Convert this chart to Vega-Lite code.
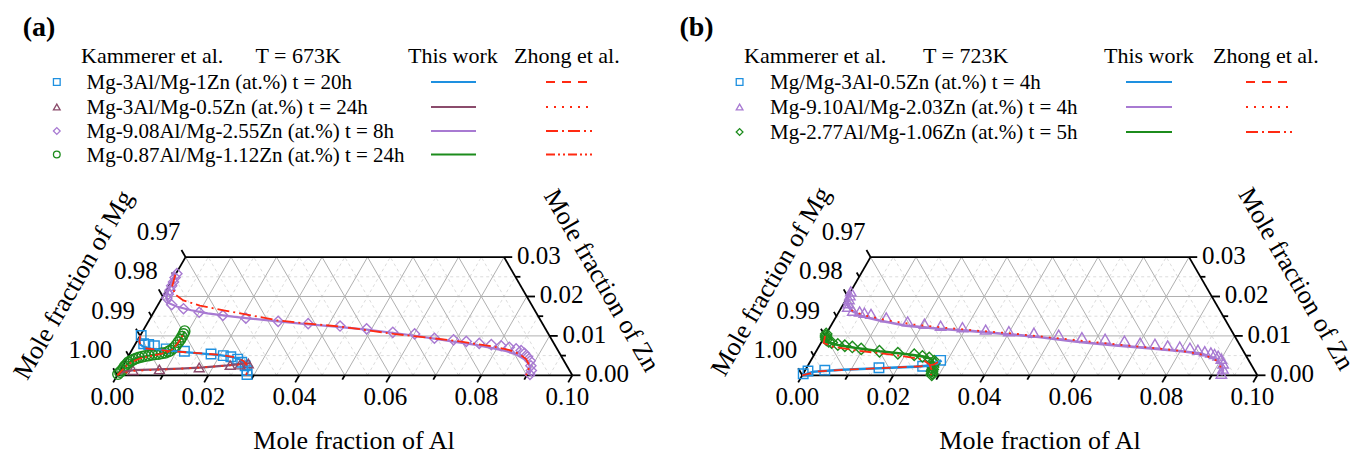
{
"$schema": "https://vega.github.io/schema/vega-lite/v6.json",
"padding": 0,
"spacing": 0,
"bounds": "flush",
"background": "white",
"config": {"view": {"stroke": null}, "font": "Liberation Serif", "text": {"font": "Liberation Serif", "color": "black"}},
"resolve": {"scale": {"x": "independent", "y": "independent", "color": "independent", "shape": "independent", "strokeDash": "independent", "size": "independent"}},
"datasets": {
"grid": [
{"al":0,"zn":0.005,"al2":0.095,"zn2":0.005,"k":"minor"},
{"al":0,"zn":0.01,"al2":0.09,"zn2":0.01,"k":"major"},
{"al":0,"zn":0.015,"al2":0.085,"zn2":0.015,"k":"minor"},
{"al":0,"zn":0.02,"al2":0.08,"zn2":0.02,"k":"major"},
{"al":0,"zn":0.025,"al2":0.075,"zn2":0.025,"k":"minor"},
{"al":0.005,"zn":0,"al2":0.005,"zn2":0.03,"k":"minor"},
{"al":0.01,"zn":0,"al2":0.01,"zn2":0.03,"k":"major"},
{"al":0.015,"zn":0,"al2":0.015,"zn2":0.03,"k":"minor"},
{"al":0.02,"zn":0,"al2":0.02,"zn2":0.03,"k":"major"},
{"al":0.025,"zn":0,"al2":0.025,"zn2":0.03,"k":"minor"},
{"al":0.03,"zn":0,"al2":0.03,"zn2":0.03,"k":"major"},
{"al":0.035,"zn":0,"al2":0.035,"zn2":0.03,"k":"minor"},
{"al":0.04,"zn":0,"al2":0.04,"zn2":0.03,"k":"major"},
{"al":0.045,"zn":0,"al2":0.045,"zn2":0.03,"k":"minor"},
{"al":0.05,"zn":0,"al2":0.05,"zn2":0.03,"k":"major"},
{"al":0.055,"zn":0,"al2":0.055,"zn2":0.03,"k":"minor"},
{"al":0.06,"zn":0,"al2":0.06,"zn2":0.03,"k":"major"},
{"al":0.065,"zn":0,"al2":0.065,"zn2":0.03,"k":"minor"},
{"al":0.07,"zn":0,"al2":0.07,"zn2":0.03,"k":"major"},
{"al":0.075,"zn":0,"al2":0.075,"zn2":0.025,"k":"minor"},
{"al":0.08,"zn":0,"al2":0.08,"zn2":0.02,"k":"major"},
{"al":0.085,"zn":0,"al2":0.085,"zn2":0.015,"k":"minor"},
{"al":0.09,"zn":0,"al2":0.09,"zn2":0.01,"k":"major"},
{"al":0.095,"zn":0,"al2":0.095,"zn2":0.005,"k":"minor"},
{"al":0.005,"zn":0,"al2":0,"zn2":0.005,"k":"minor"},
{"al":0.01,"zn":0,"al2":0,"zn2":0.01,"k":"major"},
{"al":0.015,"zn":0,"al2":0,"zn2":0.015,"k":"minor"},
{"al":0.02,"zn":0,"al2":0,"zn2":0.02,"k":"major"},
{"al":0.025,"zn":0,"al2":0,"zn2":0.025,"k":"minor"},
{"al":0.03,"zn":0,"al2":0,"zn2":0.03,"k":"major"},
{"al":0.035,"zn":0,"al2":0.005,"zn2":0.03,"k":"minor"},
{"al":0.04,"zn":0,"al2":0.01,"zn2":0.03,"k":"major"},
{"al":0.045,"zn":0,"al2":0.015,"zn2":0.03,"k":"minor"},
{"al":0.05,"zn":0,"al2":0.02,"zn2":0.03,"k":"major"},
{"al":0.055,"zn":0,"al2":0.025,"zn2":0.03,"k":"minor"},
{"al":0.06,"zn":0,"al2":0.03,"zn2":0.03,"k":"major"},
{"al":0.065,"zn":0,"al2":0.035,"zn2":0.03,"k":"minor"},
{"al":0.07,"zn":0,"al2":0.04,"zn2":0.03,"k":"major"},
{"al":0.075,"zn":0,"al2":0.045,"zn2":0.03,"k":"minor"},
{"al":0.08,"zn":0,"al2":0.05,"zn2":0.03,"k":"major"},
{"al":0.085,"zn":0,"al2":0.055,"zn2":0.03,"k":"minor"},
{"al":0.09,"zn":0,"al2":0.06,"zn2":0.03,"k":"major"},
{"al":0.095,"zn":0,"al2":0.065,"zn2":0.03,"k":"minor"}
],
"frame": [
{"al":0,"zn":0,"al2":0.1,"zn2":0},
{"al":0,"zn":0,"al2":0,"zn2":0.03},
{"al":0,"zn":0.03,"al2":0.07,"zn2":0.03},
{"al":0.1,"zn":0,"al2":0.07,"zn2":0.03},
{"al":0,"zn":0,"al2":0,"zn2":-0.0018},
{"al":0.01,"zn":0,"al2":0.01,"zn2":-0.0011},
{"al":0.02,"zn":0,"al2":0.02,"zn2":-0.0018},
{"al":0.03,"zn":0,"al2":0.03,"zn2":-0.0011},
{"al":0.04,"zn":0,"al2":0.04,"zn2":-0.0018},
{"al":0.05,"zn":0,"al2":0.05,"zn2":-0.0011},
{"al":0.06,"zn":0,"al2":0.06,"zn2":-0.0018},
{"al":0.07,"zn":0,"al2":0.07,"zn2":-0.0011},
{"al":0.08,"zn":0,"al2":0.08,"zn2":-0.0018},
{"al":0.09,"zn":0,"al2":0.09,"zn2":-0.0011},
{"al":0.1,"zn":0,"al2":0.1,"zn2":-0.0018},
{"al":0,"zn":0,"al2":-0.0018,"zn2":0.0018},
{"al":0,"zn":0.005,"al2":-0.0011,"zn2":0.0061},
{"al":0,"zn":0.01,"al2":-0.0018,"zn2":0.0118},
{"al":0,"zn":0.015,"al2":-0.0011,"zn2":0.0161},
{"al":0,"zn":0.02,"al2":-0.0018,"zn2":0.0218},
{"al":0,"zn":0.025,"al2":-0.0011,"zn2":0.0261},
{"al":0,"zn":0.03,"al2":-0.0018,"zn2":0.0318},
{"al":0.1,"zn":0,"al2":0.1018,"zn2":0},
{"al":0.095,"zn":0.005,"al2":0.0961,"zn2":0.005},
{"al":0.09,"zn":0.01,"al2":0.0918,"zn2":0.01},
{"al":0.085,"zn":0.015,"al2":0.0861,"zn2":0.015},
{"al":0.08,"zn":0.02,"al2":0.0818,"zn2":0.02},
{"al":0.075,"zn":0.025,"al2":0.0761,"zn2":0.025},
{"al":0.07,"zn":0.03,"al2":0.0718,"zn2":0.03}
],
"labAl": [{"al":0,"zn":0,"t":"0.00"},{"al":0.02,"zn":0,"t":"0.02"},{"al":0.04,"zn":0,"t":"0.04"},{"al":0.06,"zn":0,"t":"0.06"},{"al":0.08,"zn":0,"t":"0.08"},{"al":0.1,"zn":0,"t":"0.10"}],
"labMg": [{"al":0,"zn":0,"t":"1.00"},{"al":0,"zn":0.01,"t":"0.99"},{"al":0,"zn":0.02,"t":"0.98"},{"al":0,"zn":0.03,"t":"0.97"}],
"labZn": [{"al":0.1,"zn":0,"t":"0.00"},{"al":0.09,"zn":0.01,"t":"0.01"},{"al":0.08,"zn":0.02,"t":"0.02"},{"al":0.07,"zn":0.03,"t":"0.03"}],
"expA": [
{"s":"s1","al":0.0002,"zn":0.0101},{"s":"s1","al":0.0018,"zn":0.0080},{"s":"s1","al":0.0030,"zn":0.0078},{"s":"s1","al":0.0044,"zn":0.0075},{"s":"s1","al":0.0074,"zn":0.0067},{"s":"s1","al":0.0117,"zn":0.0061},{"s":"s1","al":0.0179,"zn":0.0054},{"s":"s1","al":0.0208,"zn":0.0050},{"s":"s1","al":0.0226,"zn":0.0047},{"s":"s1","al":0.0244,"zn":0.0041},{"s":"s1","al":0.0257,"zn":0.0033},{"s":"s1","al":0.0269,"zn":0.0024},{"s":"s1","al":0.0279,"zn":0.0012},{"s":"s1","al":0.0284,"zn":0.0002},
{"s":"s2","al":0.0028,"zn":0.0013},{"s":"s2","al":0.0085,"zn":0.0015},{"s":"s2","al":0.0170,"zn":0.0020},{"s":"s2","al":0.0235,"zn":0.0026},{"s":"s2","al":0.0256,"zn":0.0027},{"s":"s2","al":0.0273,"zn":0.0030},
{"s":"s3","al":0.0002,"zn":0.0258},{"s":"s3","al":0.0003,"zn":0.0248},{"s":"s3","al":0.0005,"zn":0.0237},{"s":"s3","al":0.0006,"zn":0.0227},{"s":"s3","al":0.0008,"zn":0.0216},{"s":"s3","al":0.0009,"zn":0.0206},{"s":"s3","al":0.0011,"zn":0.0196},{"s":"s3","al":0.0030,"zn":0.0179},{"s":"s3","al":0.0061,"zn":0.0169},{"s":"s3","al":0.0100,"zn":0.0160},{"s":"s3","al":0.0156,"zn":0.0152},{"s":"s3","al":0.0210,"zn":0.0145},{"s":"s3","al":0.0285,"zn":0.0137},{"s":"s3","al":0.0354,"zn":0.0131},{"s":"s3","al":0.0427,"zn":0.0125},{"s":"s3","al":0.0489,"zn":0.0118},{"s":"s3","al":0.0551,"zn":0.0109},{"s":"s3","al":0.0601,"zn":0.0105},{"s":"s3","al":0.0650,"zn":0.0094},{"s":"s3","al":0.0694,"zn":0.0090},{"s":"s3","al":0.0724,"zn":0.0086},{"s":"s3","al":0.0755,"zn":0.0081},{"s":"s3","al":0.0783,"zn":0.0078},{"s":"s3","al":0.0806,"zn":0.0075},{"s":"s3","al":0.0826,"zn":0.0071},{"s":"s3","al":0.0843,"zn":0.0067},{"s":"s3","al":0.0856,"zn":0.0063},{"s":"s3","al":0.0867,"zn":0.0056},{"s":"s3","al":0.0878,"zn":0.0047},{"s":"s3","al":0.0889,"zn":0.0037},{"s":"s3","al":0.0897,"zn":0.0024},{"s":"s3","al":0.0904,"zn":0.0012},{"s":"s3","al":0.0906,"zn":0.0002},
{"s":"s4","al":0.0000,"zn":0.0003},{"s":"s4","al":0.0002,"zn":0.0008},{"s":"s4","al":0.0004,"zn":0.0013},{"s":"s4","al":0.0005,"zn":0.0019},{"s":"s4","al":0.0005,"zn":0.0024},{"s":"s4","al":0.0007,"zn":0.0029},{"s":"s4","al":0.0008,"zn":0.0033},{"s":"s4","al":0.0012,"zn":0.0037},{"s":"s4","al":0.0016,"zn":0.0040},{"s":"s4","al":0.0020,"zn":0.0043},{"s":"s4","al":0.0025,"zn":0.0045},{"s":"s4","al":0.0031,"zn":0.0047},{"s":"s4","al":0.0037,"zn":0.0049},{"s":"s4","al":0.0044,"zn":0.0050},{"s":"s4","al":0.0050,"zn":0.0052},{"s":"s4","al":0.0057,"zn":0.0053},{"s":"s4","al":0.0064,"zn":0.0054},{"s":"s4","al":0.0070,"zn":0.0056},{"s":"s4","al":0.0077,"zn":0.0057},{"s":"s4","al":0.0082,"zn":0.0060},{"s":"s4","al":0.0085,"zn":0.0063},{"s":"s4","al":0.0089,"zn":0.0069},{"s":"s4","al":0.0091,"zn":0.0076},{"s":"s4","al":0.0092,"zn":0.0084},{"s":"s4","al":0.0093,"zn":0.0091},{"s":"s4","al":0.0093,"zn":0.0098},{"s":"s4","al":0.0093,"zn":0.0105},{"s":"s4","al":0.0092,"zn":0.0112}
],
"calcA": [
{"s":"s1","src":"T","al":0,"zn":0.0101},{"s":"s1","src":"T","al":0.0004,"zn":0.0090},{"s":"s1","src":"T","al":0.0010,"zn":0.0079},{"s":"s1","src":"T","al":0.0020,"zn":0.0073},{"s":"s1","src":"T","al":0.0040,"zn":0.0068},{"s":"s1","src":"T","al":0.0080,"zn":0.0063},{"s":"s1","src":"T","al":0.0120,"zn":0.0059},{"s":"s1","src":"T","al":0.0160,"zn":0.0055},{"s":"s1","src":"T","al":0.0200,"zn":0.0051},{"s":"s1","src":"T","al":0.0230,"zn":0.0046},{"s":"s1","src":"T","al":0.0250,"zn":0.0040},{"s":"s1","src":"T","al":0.0265,"zn":0.0031},{"s":"s1","src":"T","al":0.0276,"zn":0.0020},{"s":"s1","src":"T","al":0.0282,"zn":0.0010},{"s":"s1","src":"T","al":0.0285,"zn":0},
{"s":"s1","src":"Z","al":0,"zn":0.0101},{"s":"s1","src":"Z","al":0.0006,"zn":0.0085},{"s":"s1","src":"Z","al":0.0015,"zn":0.0074},{"s":"s1","src":"Z","al":0.0030,"zn":0.0068},{"s":"s1","src":"Z","al":0.0080,"zn":0.0062},{"s":"s1","src":"Z","al":0.0140,"zn":0.0057},{"s":"s1","src":"Z","al":0.0200,"zn":0.0052},{"s":"s1","src":"Z","al":0.0240,"zn":0.0045},{"s":"s1","src":"Z","al":0.0260,"zn":0.0036},{"s":"s1","src":"Z","al":0.0272,"zn":0.0025},{"s":"s1","src":"Z","al":0.0280,"zn":0.0012},{"s":"s1","src":"Z","al":0.0283,"zn":0},
{"s":"s2","src":"T","al":0,"zn":0.0003},{"s":"s2","src":"T","al":0.0010,"zn":0.0009},{"s":"s2","src":"T","al":0.0030,"zn":0.0013},{"s":"s2","src":"T","al":0.0080,"zn":0.0015},{"s":"s2","src":"T","al":0.0130,"zn":0.0017},{"s":"s2","src":"T","al":0.0180,"zn":0.0020},{"s":"s2","src":"T","al":0.0230,"zn":0.0025},{"s":"s2","src":"T","al":0.0260,"zn":0.0029},{"s":"s2","src":"T","al":0.0278,"zn":0.0031},
{"s":"s2","src":"Z","al":0,"zn":0.0002},{"s":"s2","src":"Z","al":0.0030,"zn":0.0011},{"s":"s2","src":"Z","al":0.0080,"zn":0.0014},{"s":"s2","src":"Z","al":0.0150,"zn":0.0018},{"s":"s2","src":"Z","al":0.0220,"zn":0.0024},{"s":"s2","src":"Z","al":0.0260,"zn":0.0028},{"s":"s2","src":"Z","al":0.0280,"zn":0.0031},
{"s":"s3","src":"T","al":0,"zn":0.0258},{"s":"s3","src":"T","al":0.0002,"zn":0.0235},{"s":"s3","src":"T","al":0.0005,"zn":0.0212},{"s":"s3","src":"T","al":0.0010,"zn":0.0195},{"s":"s3","src":"T","al":0.0022,"zn":0.0183},{"s":"s3","src":"T","al":0.0045,"zn":0.0174},{"s":"s3","src":"T","al":0.0080,"zn":0.0165},{"s":"s3","src":"T","al":0.0120,"zn":0.0157},{"s":"s3","src":"T","al":0.0170,"zn":0.0150},{"s":"s3","src":"T","al":0.0220,"zn":0.0144},{"s":"s3","src":"T","al":0.0285,"zn":0.0137},{"s":"s3","src":"T","al":0.0350,"zn":0.0130},{"s":"s3","src":"T","al":0.0425,"zn":0.0123},{"s":"s3","src":"T","al":0.0490,"zn":0.0116},{"s":"s3","src":"T","al":0.0550,"zn":0.0108},{"s":"s3","src":"T","al":0.0600,"zn":0.0101},{"s":"s3","src":"T","al":0.0650,"zn":0.0093},{"s":"s3","src":"T","al":0.0700,"zn":0.0085},{"s":"s3","src":"T","al":0.0750,"zn":0.0077},{"s":"s3","src":"T","al":0.0790,"zn":0.0069},{"s":"s3","src":"T","al":0.0825,"zn":0.0061},{"s":"s3","src":"T","al":0.0852,"zn":0.0052},{"s":"s3","src":"T","al":0.0872,"zn":0.0042},{"s":"s3","src":"T","al":0.0888,"zn":0.0031},{"s":"s3","src":"T","al":0.0898,"zn":0.0019},{"s":"s3","src":"T","al":0.0903,"zn":0.0008},{"s":"s3","src":"T","al":0.0904,"zn":0},
{"s":"s3","src":"Z","al":0,"zn":0.0255},{"s":"s3","src":"Z","al":0.0008,"zn":0.0225},{"s":"s3","src":"Z","al":0.0025,"zn":0.0205},{"s":"s3","src":"Z","al":0.0050,"zn":0.0190},{"s":"s3","src":"Z","al":0.0093,"zn":0.0177},{"s":"s3","src":"Z","al":0.0151,"zn":0.0165},{"s":"s3","src":"Z","al":0.0208,"zn":0.0154},{"s":"s3","src":"Z","al":0.0284,"zn":0.0139},{"s":"s3","src":"Z","al":0.0354,"zn":0.0131},{"s":"s3","src":"Z","al":0.0427,"zn":0.0124},{"s":"s3","src":"Z","al":0.0475,"zn":0.0117},{"s":"s3","src":"Z","al":0.0555,"zn":0.0105},{"s":"s3","src":"Z","al":0.0632,"zn":0.0096},{"s":"s3","src":"Z","al":0.0709,"zn":0.0086},{"s":"s3","src":"Z","al":0.0789,"zn":0.0073},{"s":"s3","src":"Z","al":0.0830,"zn":0.0064},{"s":"s3","src":"Z","al":0.0857,"zn":0.0054},{"s":"s3","src":"Z","al":0.0878,"zn":0.0041},{"s":"s3","src":"Z","al":0.0894,"zn":0.0024},{"s":"s3","src":"Z","al":0.0898,"zn":0.0007},{"s":"s3","src":"Z","al":0.0898,"zn":0},
{"s":"s4","src":"T","al":0,"zn":0},{"s":"s4","src":"T","al":0.0003,"zn":0.0010},{"s":"s4","src":"T","al":0.0005,"zn":0.0020},{"s":"s4","src":"T","al":0.0008,"zn":0.0030},{"s":"s4","src":"T","al":0.0014,"zn":0.0038},{"s":"s4","src":"T","al":0.0025,"zn":0.0045},{"s":"s4","src":"T","al":0.0040,"zn":0.0049},{"s":"s4","src":"T","al":0.0060,"zn":0.0053},{"s":"s4","src":"T","al":0.0075,"zn":0.0056},{"s":"s4","src":"T","al":0.0083,"zn":0.0060},{"s":"s4","src":"T","al":0.0088,"zn":0.0067},{"s":"s4","src":"T","al":0.0091,"zn":0.0076},{"s":"s4","src":"T","al":0.0093,"zn":0.0090},{"s":"s4","src":"T","al":0.0093,"zn":0.0102},{"s":"s4","src":"T","al":0.0092,"zn":0.0112},
{"s":"s4","src":"Z","al":0,"zn":0},{"s":"s4","src":"Z","al":0.0004,"zn":0.0012},{"s":"s4","src":"Z","al":0.0008,"zn":0.0024},{"s":"s4","src":"Z","al":0.0015,"zn":0.0034},{"s":"s4","src":"Z","al":0.0027,"zn":0.0042},{"s":"s4","src":"Z","al":0.0045,"zn":0.0048},{"s":"s4","src":"Z","al":0.0065,"zn":0.0053},{"s":"s4","src":"Z","al":0.0080,"zn":0.0058},{"s":"s4","src":"Z","al":0.0088,"zn":0.0066},{"s":"s4","src":"Z","al":0.0092,"zn":0.0080},{"s":"s4","src":"Z","al":0.0093,"zn":0.0095},{"s":"s4","src":"Z","al":0.0093,"zn":0.0108}
],
"expB": [
{"s":"s1","al":0,"zn":0.0004},{"s":"s1","al":0.0007,"zn":0.0011},{"s":"s1","al":0.0043,"zn":0.0013},{"s":"s1","al":0.0159,"zn":0.0019},{"s":"s1","al":0.0253,"zn":0.0023},{"s":"s1","al":0.0285,"zn":0.0038},
{"s":"s2","al":0,"zn":0.0213},{"s":"s2","al":0.0003,"zn":0.0203},{"s":"s2","al":0.0006,"zn":0.0193},{"s":"s2","al":0.0009,"zn":0.0183},{"s":"s2","al":0.0013,"zn":0.0174},{"s":"s2","al":0.0029,"zn":0.0164},{"s":"s2","al":0.0045,"zn":0.0162},{"s":"s2","al":0.0057,"zn":0.0159},{"s":"s2","al":0.0073,"zn":0.0156},{"s":"s2","al":0.0111,"zn":0.0147},{"s":"s2","al":0.0163,"zn":0.0137},{"s":"s2","al":0.0203,"zn":0.0131},{"s":"s2","al":0.0241,"zn":0.0126},{"s":"s2","al":0.0291,"zn":0.0122},{"s":"s2","al":0.0345,"zn":0.0116},{"s":"s2","al":0.0398,"zn":0.0112},{"s":"s2","al":0.0455,"zn":0.0108},{"s":"s2","al":0.0512,"zn":0.0103},{"s":"s2","al":0.0566,"zn":0.0097},{"s":"s2","al":0.0619,"zn":0.0093},{"s":"s2","al":0.0664,"zn":0.0088},{"s":"s2","al":0.0701,"zn":0.0083},{"s":"s2","al":0.0735,"zn":0.0080},{"s":"s2","al":0.0765,"zn":0.0076},{"s":"s2","al":0.0793,"zn":0.0073},{"s":"s2","al":0.0817,"zn":0.0070},{"s":"s2","al":0.0837,"zn":0.0065},{"s":"s2","al":0.0854,"zn":0.0061},{"s":"s2","al":0.0869,"zn":0.0058},{"s":"s2","al":0.0879,"zn":0.0054},{"s":"s2","al":0.0889,"zn":0.0050},{"s":"s2","al":0.0900,"zn":0.0042},{"s":"s2","al":0.0910,"zn":0.0030},{"s":"s2","al":0.0916,"zn":0.0017},{"s":"s2","al":0.0919,"zn":0.0004},
{"s":"s3","al":0,"zn":0.0105},{"s":"s3","al":0.0002,"zn":0.0100},{"s":"s3","al":0.0005,"zn":0.0095},{"s":"s3","al":0.0008,"zn":0.0090},{"s":"s3","al":0.0015,"zn":0.0086},{"s":"s3","al":0.0023,"zn":0.0083},{"s":"s3","al":0.0039,"zn":0.0078},{"s":"s3","al":0.0056,"zn":0.0075},{"s":"s3","al":0.0074,"zn":0.0072},{"s":"s3","al":0.0096,"zn":0.0067},{"s":"s3","al":0.0139,"zn":0.0061},{"s":"s3","al":0.0182,"zn":0.0056},{"s":"s3","al":0.0220,"zn":0.0052},{"s":"s3","al":0.0240,"zn":0.0048},{"s":"s3","al":0.0257,"zn":0.0044},{"s":"s3","al":0.0272,"zn":0.0036},{"s":"s3","al":0.0275,"zn":0.0030},{"s":"s3","al":0.0277,"zn":0.0021},{"s":"s3","al":0.0279,"zn":0.0015},{"s":"s3","al":0.0280,"zn":0.0010},{"s":"s3","al":0.0283,"zn":0.0005},{"s":"s3","al":0.0284,"zn":0.0001}
],
"calcB": [
{"s":"s1","src":"T","al":0,"zn":0},{"s":"s1","src":"T","al":0.0020,"zn":0.0009},{"s":"s1","src":"T","al":0.0080,"zn":0.0014},{"s":"s1","src":"T","al":0.0160,"zn":0.0018},{"s":"s1","src":"T","al":0.0240,"zn":0.0022},{"s":"s1","src":"T","al":0.0270,"zn":0.0025},{"s":"s1","src":"T","al":0.0282,"zn":0.0031},{"s":"s1","src":"T","al":0.0287,"zn":0.0038},
{"s":"s1","src":"Z","al":0,"zn":0},{"s":"s1","src":"Z","al":0.0030,"zn":0.0010},{"s":"s1","src":"Z","al":0.0100,"zn":0.0015},{"s":"s1","src":"Z","al":0.0180,"zn":0.0019},{"s":"s1","src":"Z","al":0.0250,"zn":0.0023},{"s":"s1","src":"Z","al":0.0275,"zn":0.0027},{"s":"s1","src":"Z","al":0.0284,"zn":0.0036},
{"s":"s2","src":"T","al":0,"zn":0.0215},{"s":"s2","src":"T","al":0.0003,"zn":0.0195},{"s":"s2","src":"T","al":0.0010,"zn":0.0178},{"s":"s2","src":"T","al":0.0026,"zn":0.0164},{"s":"s2","src":"T","al":0.0059,"zn":0.0149},{"s":"s2","src":"T","al":0.0100,"zn":0.0139},{"s":"s2","src":"T","al":0.0165,"zn":0.0126},{"s":"s2","src":"T","al":0.0242,"zn":0.0118},{"s":"s2","src":"T","al":0.0318,"zn":0.0112},{"s":"s2","src":"T","al":0.0394,"zn":0.0105},{"s":"s2","src":"T","al":0.0471,"zn":0.0097},{"s":"s2","src":"T","al":0.0541,"zn":0.0088},{"s":"s2","src":"T","al":0.0572,"zn":0.0084},{"s":"s2","src":"T","al":0.0650,"zn":0.0076},{"s":"s2","src":"T","al":0.0726,"zn":0.0069},{"s":"s2","src":"T","al":0.0803,"zn":0.0061},{"s":"s2","src":"T","al":0.0850,"zn":0.0055},{"s":"s2","src":"T","al":0.0885,"zn":0.0042},{"s":"s2","src":"T","al":0.0907,"zn":0.0028},{"s":"s2","src":"T","al":0.0918,"zn":0.0013},{"s":"s2","src":"T","al":0.0921,"zn":0},
{"s":"s2","src":"Z","al":0.0025,"zn":0.0165},{"s":"s2","src":"Z","al":0.0060,"zn":0.0152},{"s":"s2","src":"Z","al":0.0120,"zn":0.0139},{"s":"s2","src":"Z","al":0.0180,"zn":0.0129},{"s":"s2","src":"Z","al":0.0250,"zn":0.0121},{"s":"s2","src":"Z","al":0.0320,"zn":0.0114},{"s":"s2","src":"Z","al":0.0400,"zn":0.0107},{"s":"s2","src":"Z","al":0.0470,"zn":0.0099},{"s":"s2","src":"Z","al":0.0550,"zn":0.0090},{"s":"s2","src":"Z","al":0.0620,"zn":0.0082},{"s":"s2","src":"Z","al":0.0690,"zn":0.0074},{"s":"s2","src":"Z","al":0.0760,"zn":0.0067},{"s":"s2","src":"Z","al":0.0820,"zn":0.0059},{"s":"s2","src":"Z","al":0.0860,"zn":0.0051},{"s":"s2","src":"Z","al":0.0890,"zn":0.0038},{"s":"s2","src":"Z","al":0.0908,"zn":0.0022},{"s":"s2","src":"Z","al":0.0915,"zn":0.0005},
{"s":"s3","src":"T","al":0,"zn":0.0106},{"s":"s3","src":"T","al":0.0005,"zn":0.0092},{"s":"s3","src":"T","al":0.0015,"zn":0.0084},{"s":"s3","src":"T","al":0.0040,"zn":0.0077},{"s":"s3","src":"T","al":0.0080,"zn":0.0070},{"s":"s3","src":"T","al":0.0140,"zn":0.0061},{"s":"s3","src":"T","al":0.0200,"zn":0.0054},{"s":"s3","src":"T","al":0.0240,"zn":0.0048},{"s":"s3","src":"T","al":0.0262,"zn":0.0042},{"s":"s3","src":"T","al":0.0273,"zn":0.0032},{"s":"s3","src":"T","al":0.0279,"zn":0.0018},{"s":"s3","src":"T","al":0.0283,"zn":0},
{"s":"s3","src":"Z","al":0,"zn":0.0100},{"s":"s3","src":"Z","al":0.0006,"zn":0.0082},{"s":"s3","src":"Z","al":0.0030,"zn":0.0073},{"s":"s3","src":"Z","al":0.0080,"zn":0.0064},{"s":"s3","src":"Z","al":0.0142,"zn":0.0056},{"s":"s3","src":"Z","al":0.0200,"zn":0.0048},{"s":"s3","src":"Z","al":0.0245,"zn":0.0040},{"s":"s3","src":"Z","al":0.0266,"zn":0.0027},{"s":"s3","src":"Z","al":0.0277,"zn":0.0014},{"s":"s3","src":"Z","al":0.0283,"zn":0}
],
"legA": [
{"s":"s1","label":"Mg-3Al/Mg-1Zn (at.%) t = 20h","y":0.064462,"xs":-0.013297,"xt":-0.006769,"xa":0.068945,"xa2":0.078835,"xz":0.09422,"xz2":0.10433},
{"s":"s2","label":"Mg-3Al/Mg-0.5Zn (at.%) t = 24h","y":0.058967,"xs":-0.013297,"xt":-0.006769,"xa":0.068945,"xa2":0.078835,"xz":0.09422,"xz2":0.10433},
{"s":"s3","label":"Mg-9.08Al/Mg-2.55Zn (at.%) t = 8h","y":0.053692,"xs":-0.013297,"xt":-0.006769,"xa":0.068945,"xa2":0.078835,"xz":0.09422,"xz2":0.10433},
{"s":"s4","label":"Mg-0.87Al/Mg-1.12Zn (at.%) t = 24h","y":0.048527,"xs":-0.013297,"xt":-0.006769,"xa":0.068945,"xa2":0.078835,"xz":0.09422,"xz2":0.10433}
],
"legB": [
{"s":"s1","label":"Mg/Mg-3Al-0.5Zn (at.%) t = 4h","y":0.064462,"xs":-0.01378,"xt":-0.007099,"xa":0.071143,"xa2":0.081253,"xz":0.097516,"xz2":0.107626},
{"s":"s2","label":"Mg-9.10Al/Mg-2.03Zn (at.%) t = 4h","y":0.058967,"xs":-0.01378,"xt":-0.007099,"xa":0.071143,"xa2":0.081253,"xz":0.097516,"xz2":0.107626},
{"s":"s3","label":"Mg-2.77Al/Mg-1.06Zn (at.%) t = 5h","y":0.053473,"xs":-0.01378,"xt":-0.007099,"xa":0.071143,"xa2":0.081253,"xz":0.097516,"xz2":0.107626}
],
"headA": [{"t":"Kammerer et al.","x":-0.007978,"y":0.068703},{"t":"T = 673K","x":0.030374,"y":0.068703},{"t":"This work","x":0.063890,"y":0.068703},{"t":"Zhong et al.","x":0.087187,"y":0.068703}],
"headB": [{"t":"Kammerer et al.","x":-0.012813,"y":0.068703},{"t":"T = 723K","x":0.026527,"y":0.068703},{"t":"This work","x":0.066308,"y":0.068703},{"t":"Zhong et al.","x":0.090264,"y":0.068703}]
},
"hconcat": [
{
"width": 685, "height": 457,
"encoding": {
 "x": {"field":"x","type":"quantitative","scale":{"domain":[-0.02578,0.124769],"nice":false,"zero":false},"axis":null},
 "y": {"field":"y","type":"quantitative","scale":{"domain":[-0.017956,0.082484],"nice":false,"zero":false},"axis":null}
},
"layer": [
 {"data":{"name":"grid"},"transform":[{"filter":"datum.k=='minor'"},{"calculate":"datum.al+datum.zn/2","as":"x"},{"calculate":"datum.zn*0.8660254","as":"y"},{"calculate":"datum.al2+datum.zn2/2","as":"x2"},{"calculate":"datum.zn2*0.8660254","as":"y2"}],
  "mark":{"type":"rule","color":"#d2d2d2","strokeWidth":0.8,"strokeDash":[3,3]},"encoding":{"x2":{"field":"x2"},"y2":{"field":"y2"}}},
 {"data":{"name":"grid"},"transform":[{"filter":"datum.k=='major'"},{"calculate":"datum.al+datum.zn/2","as":"x"},{"calculate":"datum.zn*0.8660254","as":"y"},{"calculate":"datum.al2+datum.zn2/2","as":"x2"},{"calculate":"datum.zn2*0.8660254","as":"y2"}],
  "mark":{"type":"rule","color":"#b0b0b0","strokeWidth":1},"encoding":{"x2":{"field":"x2"},"y2":{"field":"y2"}}},
 {"data":{"name":"frame"},"transform":[{"calculate":"datum.al+datum.zn/2","as":"x"},{"calculate":"datum.zn*0.8660254","as":"y"},{"calculate":"datum.al2+datum.zn2/2","as":"x2"},{"calculate":"datum.zn2*0.8660254","as":"y2"}],
  "mark":{"type":"rule","color":"black","strokeWidth":1.8},"encoding":{"x2":{"field":"x2"},"y2":{"field":"y2"}}},
 {"data":{"name":"expA"},"transform":[{"calculate":"datum.al+datum.zn/2","as":"x"},{"calculate":"datum.zn*0.8660254","as":"y"}],
  "mark":{"type":"point","filled":false,"strokeWidth":1.4,"opacity":1},
  "encoding":{
   "shape":{"field":"s","type":"nominal","scale":{"domain":["s1","s2","s3","s4"],"range":["square","triangle-up","diamond","circle"]},"legend":null},
   "size":{"field":"s","type":"nominal","scale":{"domain":["s1","s2","s3","s4"],"range":[90,110,140,70]},"legend":null},
   "color":{"field":"s","type":"nominal","scale":{"domain":["s1","s2","s3","s4"],"range":["#1e90e0","#8b4c6c","#a87ad2","#1c8c1c"]},"legend":null}}},
 {"data":{"name":"calcA"},"transform":[{"filter":"datum.src=='T'"},{"calculate":"datum.al+datum.zn/2","as":"x"},{"calculate":"datum.zn*0.8660254","as":"y"}],
  "mark":{"type":"line","strokeWidth":2.2},
  "encoding":{"color":{"field":"s","type":"nominal","scale":{"domain":["s1","s2","s3","s4"],"range":["#1e90e0","#8b4c6c","#a87ad2","#1c8c1c"]},"legend":null},"order":{"value":null}}},
 {"data":{"name":"calcA"},"transform":[{"filter":"datum.src=='Z'"},{"calculate":"datum.al+datum.zn/2","as":"x"},{"calculate":"datum.zn*0.8660254","as":"y"}],
  "mark":{"type":"line","strokeWidth":1.8,"color":"#ff2a12"},
  "encoding":{"strokeDash":{"field":"s","type":"nominal","scale":{"domain":["s1","s2","s3","s4"],"range":[[9,7],[2,6],[12,4,2,4],[9,3,2,3,2,3]]},"legend":null},"order":{"value":null}}},
 {"data":{"name":"labAl"},"transform":[{"calculate":"datum.al+datum.zn/2","as":"x"},{"calculate":"datum.zn*0.8660254","as":"y"}],
  "mark":{"type":"text","font":"Liberation Serif","fontSize":25,"align":"center","baseline":"middle","dx":-5,"dy":22},"encoding":{"text":{"field":"t","type":"nominal"}}},
 {"data":{"name":"labMg"},"transform":[{"calculate":"datum.al+datum.zn/2","as":"x"},{"calculate":"datum.zn*0.8660254","as":"y"}],
  "mark":{"type":"text","font":"Liberation Serif","fontSize":25,"align":"right","baseline":"middle","dx":-5,"dy":-25},"encoding":{"text":{"field":"t","type":"nominal"}}},
 {"data":{"name":"labZn"},"transform":[{"calculate":"datum.al+datum.zn/2","as":"x"},{"calculate":"datum.zn*0.8660254","as":"y"}],
  "mark":{"type":"text","font":"Liberation Serif","fontSize":25,"align":"left","baseline":"middle","dx":13,"dy":-1},"encoding":{"text":{"field":"t","type":"nominal"}}},
 {"data":{"values":[{"x":0.052022,"y":-0.01444}]},"mark":{"type":"text","font":"Liberation Serif","fontSize":26,"align":"center","baseline":"middle"},"encoding":{"text":{"value":"Mole fraction of Al"}}},
 {"data":{"values":[{"x":-0.009626,"y":0.019846}]},"mark":{"type":"text","font":"Liberation Serif","fontSize":26,"align":"center","baseline":"middle","angle":-60},"encoding":{"text":{"value":"Mole fraction of Mg"}}},
 {"data":{"values":[{"x":0.106418,"y":0.020835}]},"mark":{"type":"text","font":"Liberation Serif","fontSize":26,"align":"center","baseline":"middle","angle":60},"encoding":{"text":{"value":"Mole fraction of Zn"}}},
 {"data":{"values":[{"x":-0.017209,"y":0.07633}]},"mark":{"type":"text","font":"Liberation Serif","fontSize":28,"fontWeight":"bold","align":"center","baseline":"middle"},"encoding":{"text":{"value":"(a)"}}},
 {"data":{"name":"headA"},"mark":{"type":"text","font":"Liberation Serif","fontSize":22,"align":"left","baseline":"alphabetic"},"encoding":{"text":{"field":"t","type":"nominal"}}},
 {"data":{"name":"legA"},"mark":{"type":"point","filled":false,"strokeWidth":1.3,"size":45,"opacity":1},
  "encoding":{"x":{"field":"xs","type":"quantitative","scale":{"domain":[-0.02578,0.124769],"nice":false,"zero":false},"axis":null},
   "shape":{"field":"s","type":"nominal","scale":{"domain":["s1","s2","s3","s4"],"range":["square","triangle-up","diamond","circle"]},"legend":null},
   "color":{"field":"s","type":"nominal","scale":{"domain":["s1","s2","s3","s4"],"range":["#1e90e0","#8b4c6c","#a87ad2","#1c8c1c"]},"legend":null}}},
 {"data":{"name":"legA"},"mark":{"type":"text","font":"Liberation Serif","fontSize":21,"align":"left","baseline":"middle","dy":1},
  "encoding":{"x":{"field":"xt","type":"quantitative","scale":{"domain":[-0.02578,0.124769],"nice":false,"zero":false},"axis":null},"text":{"field":"label","type":"nominal"}}},
 {"data":{"name":"legA"},"mark":{"type":"rule","strokeWidth":2.2},
  "encoding":{"x":{"field":"xa","type":"quantitative","scale":{"domain":[-0.02578,0.124769],"nice":false,"zero":false},"axis":null},"x2":{"field":"xa2"},
   "color":{"field":"s","type":"nominal","scale":{"domain":["s1","s2","s3","s4"],"range":["#1e90e0","#8b4c6c","#a87ad2","#1c8c1c"]},"legend":null}}},
 {"data":{"name":"legA"},"mark":{"type":"rule","strokeWidth":1.8,"color":"#ff2a12"},
  "encoding":{"x":{"field":"xz","type":"quantitative","scale":{"domain":[-0.02578,0.124769],"nice":false,"zero":false},"axis":null},"x2":{"field":"xz2"},
   "strokeDash":{"field":"s","type":"nominal","scale":{"domain":["s1","s2","s3","s4"],"range":[[9,7],[2,6],[12,4,2,4],[9,3,2,3,2,3]]},"legend":null}}}
]
},
{
"width": 685, "height": 457,
"encoding": {
 "x": {"field":"x","type":"quantitative","scale":{"domain":[-0.02578,0.124769],"nice":false,"zero":false},"axis":null},
 "y": {"field":"y","type":"quantitative","scale":{"domain":[-0.017956,0.082484],"nice":false,"zero":false},"axis":null}
},
"layer": [
 {"data":{"name":"grid"},"transform":[{"filter":"datum.k=='minor'"},{"calculate":"datum.al+datum.zn/2","as":"x"},{"calculate":"datum.zn*0.8660254","as":"y"},{"calculate":"datum.al2+datum.zn2/2","as":"x2"},{"calculate":"datum.zn2*0.8660254","as":"y2"}],
  "mark":{"type":"rule","color":"#d2d2d2","strokeWidth":0.8,"strokeDash":[3,3]},"encoding":{"x2":{"field":"x2"},"y2":{"field":"y2"}}},
 {"data":{"name":"grid"},"transform":[{"filter":"datum.k=='major'"},{"calculate":"datum.al+datum.zn/2","as":"x"},{"calculate":"datum.zn*0.8660254","as":"y"},{"calculate":"datum.al2+datum.zn2/2","as":"x2"},{"calculate":"datum.zn2*0.8660254","as":"y2"}],
  "mark":{"type":"rule","color":"#b0b0b0","strokeWidth":1},"encoding":{"x2":{"field":"x2"},"y2":{"field":"y2"}}},
 {"data":{"name":"frame"},"transform":[{"calculate":"datum.al+datum.zn/2","as":"x"},{"calculate":"datum.zn*0.8660254","as":"y"},{"calculate":"datum.al2+datum.zn2/2","as":"x2"},{"calculate":"datum.zn2*0.8660254","as":"y2"}],
  "mark":{"type":"rule","color":"black","strokeWidth":1.8},"encoding":{"x2":{"field":"x2"},"y2":{"field":"y2"}}},
 {"data":{"name":"expB"},"transform":[{"calculate":"datum.al+datum.zn/2","as":"x"},{"calculate":"datum.zn*0.8660254","as":"y"}],
  "mark":{"type":"point","filled":false,"strokeWidth":1.4,"opacity":1},
  "encoding":{
   "shape":{"field":"s","type":"nominal","scale":{"domain":["s1","s2","s3"],"range":["square","triangle-up","diamond"]},"legend":null},
   "size":{"field":"s","type":"nominal","scale":{"domain":["s1","s2","s3"],"range":[90,130,130]},"legend":null},
   "color":{"field":"s","type":"nominal","scale":{"domain":["s1","s2","s3"],"range":["#1e90e0","#a87ad2","#1c8c1c"]},"legend":null}}},
 {"data":{"name":"calcB"},"transform":[{"filter":"datum.src=='T'"},{"calculate":"datum.al+datum.zn/2","as":"x"},{"calculate":"datum.zn*0.8660254","as":"y"}],
  "mark":{"type":"line","strokeWidth":2.6},
  "encoding":{"color":{"field":"s","type":"nominal","scale":{"domain":["s1","s2","s3"],"range":["#1e90e0","#a87ad2","#1c8c1c"]},"legend":null},"order":{"value":null}}},
 {"data":{"name":"calcB"},"transform":[{"filter":"datum.src=='Z'"},{"calculate":"datum.al+datum.zn/2","as":"x"},{"calculate":"datum.zn*0.8660254","as":"y"}],
  "mark":{"type":"line","strokeWidth":1.8,"color":"#ff2a12"},
  "encoding":{"strokeDash":{"field":"s","type":"nominal","scale":{"domain":["s1","s2","s3"],"range":[[9,7],[2,6],[12,4,2,4]]},"legend":null},"order":{"value":null}}},
 {"data":{"name":"labAl"},"transform":[{"calculate":"datum.al+datum.zn/2","as":"x"},{"calculate":"datum.zn*0.8660254","as":"y"}],
  "mark":{"type":"text","font":"Liberation Serif","fontSize":25,"align":"center","baseline":"middle","dx":-5,"dy":22},"encoding":{"text":{"field":"t","type":"nominal"}}},
 {"data":{"name":"labMg"},"transform":[{"calculate":"datum.al+datum.zn/2","as":"x"},{"calculate":"datum.zn*0.8660254","as":"y"}],
  "mark":{"type":"text","font":"Liberation Serif","fontSize":25,"align":"right","baseline":"middle","dx":-5,"dy":-25},"encoding":{"text":{"field":"t","type":"nominal"}}},
 {"data":{"name":"labZn"},"transform":[{"calculate":"datum.al+datum.zn/2","as":"x"},{"calculate":"datum.zn*0.8660254","as":"y"}],
  "mark":{"type":"text","font":"Liberation Serif","fontSize":25,"align":"left","baseline":"middle","dx":13,"dy":-1},"encoding":{"text":{"field":"t","type":"nominal"}}},
 {"data":{"values":[{"x":0.052242,"y":-0.01444}]},"mark":{"type":"text","font":"Liberation Serif","fontSize":26,"align":"center","baseline":"middle"},"encoding":{"text":{"value":"Mole fraction of Al"}}},
 {"data":{"values":[{"x":-0.006879,"y":0.020615}]},"mark":{"type":"text","font":"Liberation Serif","fontSize":26,"align":"center","baseline":"middle","angle":-60},"encoding":{"text":{"value":"Mole fraction of Mg"}}},
 {"data":{"values":[{"x":0.108505,"y":0.021165}]},"mark":{"type":"text","font":"Liberation Serif","fontSize":26,"align":"center","baseline":"middle","angle":60},"encoding":{"text":{"value":"Mole fraction of Zn"}}},
 {"data":{"values":[{"x":-0.023253,"y":0.07633}]},"mark":{"type":"text","font":"Liberation Serif","fontSize":28,"fontWeight":"bold","align":"center","baseline":"middle"},"encoding":{"text":{"value":"(b)"}}},
 {"data":{"name":"headB"},"mark":{"type":"text","font":"Liberation Serif","fontSize":22,"align":"left","baseline":"alphabetic"},"encoding":{"text":{"field":"t","type":"nominal"}}},
 {"data":{"name":"legB"},"mark":{"type":"point","filled":false,"strokeWidth":1.3,"size":45,"opacity":1},
  "encoding":{"x":{"field":"xs","type":"quantitative","scale":{"domain":[-0.02578,0.124769],"nice":false,"zero":false},"axis":null},
   "shape":{"field":"s","type":"nominal","scale":{"domain":["s1","s2","s3"],"range":["square","triangle-up","diamond"]},"legend":null},
   "color":{"field":"s","type":"nominal","scale":{"domain":["s1","s2","s3"],"range":["#1e90e0","#a87ad2","#1c8c1c"]},"legend":null}}},
 {"data":{"name":"legB"},"mark":{"type":"text","font":"Liberation Serif","fontSize":21,"align":"left","baseline":"middle","dy":1},
  "encoding":{"x":{"field":"xt","type":"quantitative","scale":{"domain":[-0.02578,0.124769],"nice":false,"zero":false},"axis":null},"text":{"field":"label","type":"nominal"}}},
 {"data":{"name":"legB"},"mark":{"type":"rule","strokeWidth":2.2},
  "encoding":{"x":{"field":"xa","type":"quantitative","scale":{"domain":[-0.02578,0.124769],"nice":false,"zero":false},"axis":null},"x2":{"field":"xa2"},
   "color":{"field":"s","type":"nominal","scale":{"domain":["s1","s2","s3"],"range":["#1e90e0","#a87ad2","#1c8c1c"]},"legend":null}}},
 {"data":{"name":"legB"},"mark":{"type":"rule","strokeWidth":1.8,"color":"#ff2a12"},
  "encoding":{"x":{"field":"xz","type":"quantitative","scale":{"domain":[-0.02578,0.124769],"nice":false,"zero":false},"axis":null},"x2":{"field":"xz2"},
   "strokeDash":{"field":"s","type":"nominal","scale":{"domain":["s1","s2","s3"],"range":[[9,7],[2,6],[12,4,2,4]]},"legend":null}}}
]
}
]
}
